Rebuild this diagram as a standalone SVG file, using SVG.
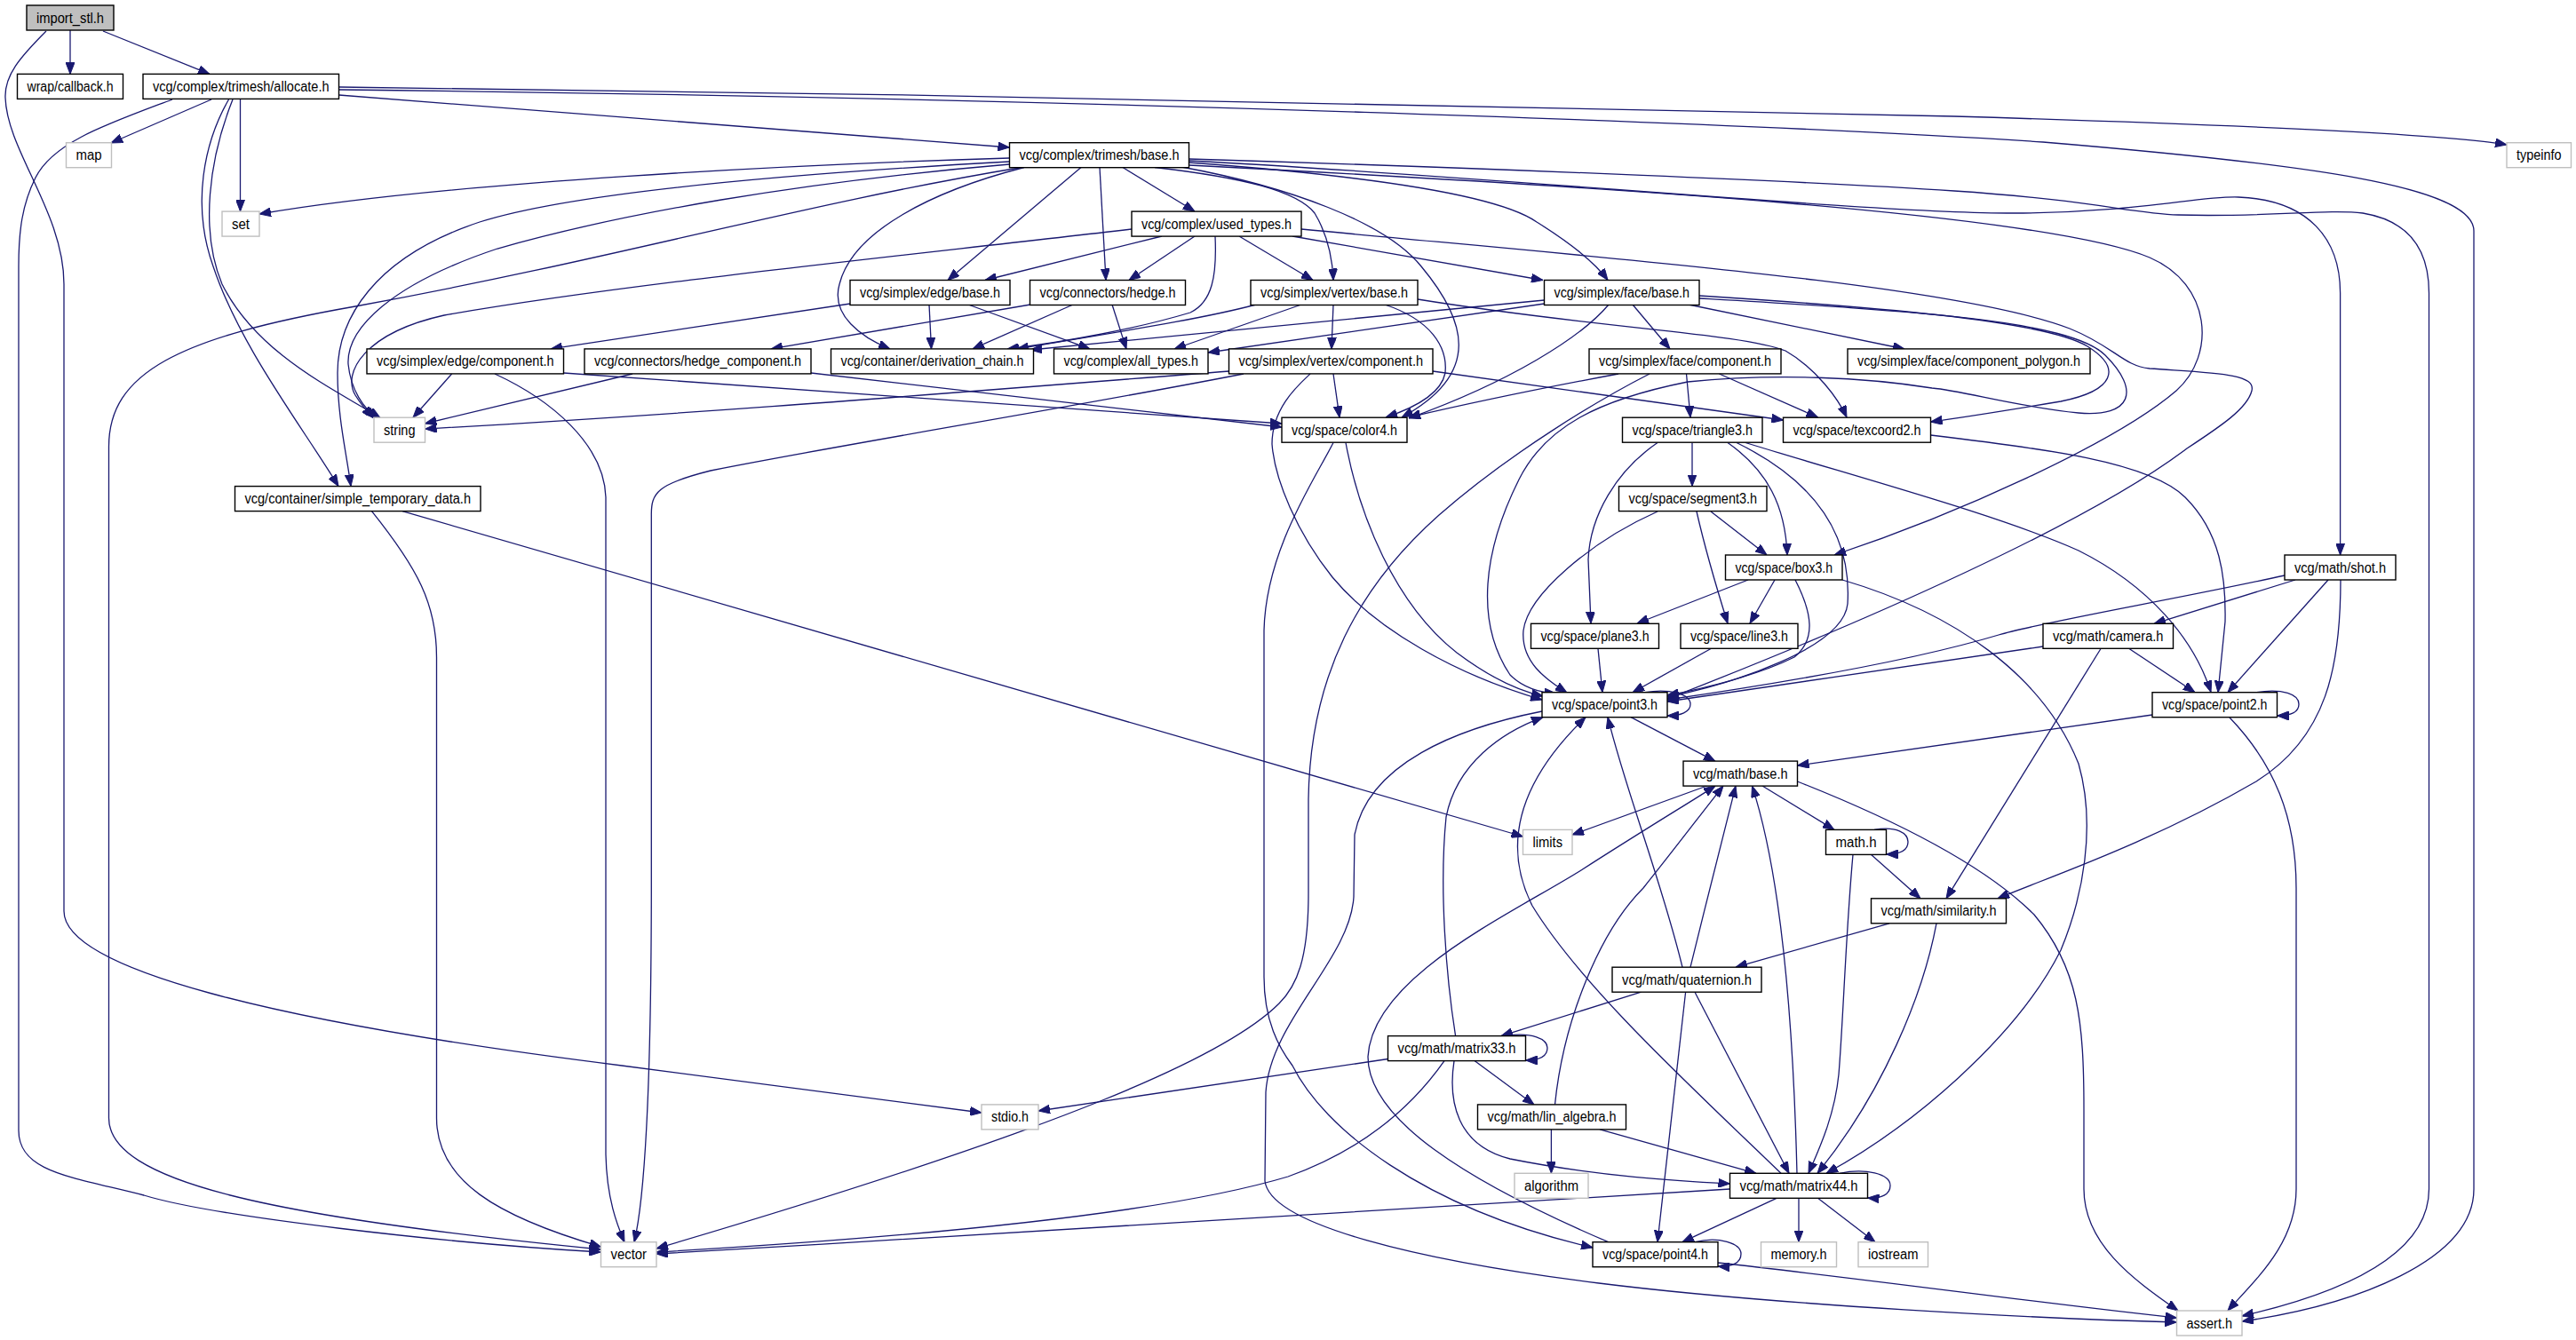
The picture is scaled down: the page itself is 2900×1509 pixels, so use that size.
<svg xmlns="http://www.w3.org/2000/svg" width="2900" height="1509" viewBox="0 0 2900 1509">
<defs>
<marker id="a" markerUnits="userSpaceOnUse" markerWidth="13" markerHeight="10" refX="13" refY="5" orient="auto"><path d="M0,0 L13,5 L0,10 z" fill="#191970" stroke="#191970" stroke-width="1"/></marker>
</defs>
<style>
.n rect{fill:#fff;stroke:#000;stroke-width:1.4}
.n.x rect{stroke:#bfbfbf}
.n.r rect{fill:#bfbfbf}
.n text{font-family:"Liberation Sans",Arial,sans-serif;font-size:16px;text-anchor:middle;fill:#000}
.e path{fill:none;stroke:#191970;stroke-width:1.3;marker-end:url(#a)}
</style>
<rect width="2900" height="1509" fill="#fff"/>
<g class="e" id="edges">
<path d="M79,34 L79,83.4"/>
<path d="M116,35 L236,83.4"/>
<path d="M52,35 C22,65 5,85 6,110 C8,170 72,240 72,320 L72,1026 C72,1090 300,1150 700,1200 L1105,1253"/>
<path d="M238,112 L125,161"/>
<path d="M270.5,112 L270.5,238"/>
<path d="M194,112 C120,140 60,160 40,200 C25,230 21,260 21,300 L21,1273 C21,1320 80,1325 162,1346 C240,1370 500,1400 676.5,1410"/>
<path d="M257.5,112 C230,160 215,230 240,300 C270,390 340,480 381,547.5"/>
<path d="M262,112 C235,180 225,260 250,320 C290,400 380,440 428,470.5"/>
<path d="M381.5,107 L1136.5,166"/>
<path d="M381.5,98 C1000,105 1800,120 2200,131 C2500,140 2750,150 2822,163"/>
<path d="M381.5,101 C1200,110 2000,140 2300,160 C2600,185 2785,210 2785,260 L2785,1339 C2785,1420 2650,1470 2524,1488"/>
<path d="M1136.5,178 C900,185 500,205 292,241"/>
<path d="M1136.5,182 C900,195 650,215 540,250 C420,290 380,360 380,420 C380,470 390,510 395,547.5"/>
<path d="M1136.5,185 C900,205 700,240 560,280 C440,320 390,370 392,410 C395,440 410,460 424,470.5"/>
<path d="M1150,188.5 C900,230 700,290 400,345 C200,380 122.5,420 122.5,503 L122.5,1259 C122.5,1330 300,1370 676.5,1407"/>
<path d="M1264,188.5 L1345,238"/>
<path d="M1238,188.5 L1245,315.5"/>
<path d="M1217,188.5 L1067,315.5"/>
<path d="M1153,188.5 C1050,215 960,260 945,320 C935,355 970,380 1002,393"/>
<path d="M1300,188.5 C1400,200 1460,215 1480,240 C1495,265 1500,290 1501,315.5"/>
<path d="M1330,188 C1450,210 1560,250 1600,300 C1650,360 1670,420 1578,470"/>
<path d="M1338.5,183 C1500,195 1680,215 1730,250 C1770,275 1795,295 1810,315.5"/>
<path d="M1338.5,181 C1700,200 2100,240 2267,240 C2400,240 2480,220 2520,222 C2600,225 2634.6,270 2634.6,330 L2634.6,625"/>
<path d="M1338.5,179 C1700,190 2050,205 2200,215 C2350,225 2400,240 2452,242 C2550,245 2620,235 2660,240 C2720,250 2734.5,290 2734.5,330 L2734.5,1339 C2734.5,1420 2620,1460 2524,1482"/>
<path d="M1338.5,186 C1800,210 2300,240 2420,290 C2490,320 2495,400 2450,440 C2380,500 2200,580 2065,625"/>
<path d="M1274,258 C1000,290 700,320 500,355 C410,375 385,420 400,445 C408,458 415,465 420,470.5"/>
<path d="M1308,266 L1109,315.5"/>
<path d="M1345,266 L1271,315.5"/>
<path d="M1368,266 C1370,310 1365,340 1340,352 C1280,370 1200,385 1134,393"/>
<path d="M1395,266 L1478,315.5"/>
<path d="M1455,266 L1737,315.5"/>
<path d="M1465,258 C1800,290 2200,320 2330,370 C2380,390 2390,412 2420,415 C2490,420 2540,420 2535,440 C2530,460 2500,480 2462,505 C2350,590 2100,700 1877,787"/>
<path d="M1414,343 C1350,360 1250,375 1145,393"/>
<path d="M1465,343 L1322,393"/>
<path d="M1501,343 L1499,393"/>
<path d="M1559,343 C1610,360 1630,390 1627,420 C1622,445 1590,460 1560,470"/>
<path d="M1596,337 C1800,370 1960,375 2010,395 C2045,415 2070,450 2079,470"/>
<path d="M1738.5,338 L1160,394"/>
<path d="M1738.5,342 L1360,397"/>
<path d="M1838,343 L1880,393"/>
<path d="M1901,343 L2144,393"/>
<path d="M1811,343 C1780,380 1700,430 1586,471"/>
<path d="M1913,333 C2100,345 2300,360 2350,390 C2390,415 2380,440 2320,452 C2260,462 2210,470 2173.5,475"/>
<path d="M1913,336 C2150,350 2330,360 2370,400 C2410,440 2400,470 2340,465 C2270,458 2210,440 2175,437 C2100,425 2000,420 1900,430 C1800,450 1740,480 1710,540 C1670,620 1660,700 1700,760 C1715,775 1735,780 1752,781"/>
<path d="M1822,421 C1720,440 1650,455 1586,470"/>
<path d="M1898.5,421 L1903,470"/>
<path d="M1935.5,421 L2046.5,470"/>
<path d="M1857,421 C1800,450 1700,510 1620,580 C1530,660 1475,760 1473,900 L1473,1006 C1473,1080 1460,1110 1440,1130 C1380,1190 1200,1270 739,1406"/>
<path d="M1905,498.5 L1905,547.5"/>
<path d="M1866,498.5 C1820,530 1790,580 1788,630 L1791,702"/>
<path d="M1945,498.5 C1990,530 2010,570 2012,625"/>
<path d="M1955,498.5 C2040,540 2085,600 2080,680 C2075,730 1950,770 1877,785"/>
<path d="M1965,498.5 C2100,540 2250,580 2340,620 C2420,660 2470,720 2489,779.5"/>
<path d="M1866,576 C1790,610 1720,670 1715,710 C1712,745 1740,765 1764,780"/>
<path d="M1926,576 L1989,625"/>
<path d="M1910,576 C1920,620 1935,670 1945,702"/>
<path d="M1968,653 L1843,702"/>
<path d="M1998,653 L1970,702"/>
<path d="M2021,653 C2040,690 2045,720 2020,740 C1980,760 1920,775 1877,783"/>
<path d="M2074,653 C2200,690 2300,760 2340,860 C2360,930 2345,1010 2320,1070 C2270,1170 2150,1270 2056,1321.3"/>
<path d="M1799,730.5 L1804,779.7"/>
<path d="M1926,730.5 L1838,779.7"/>
<path d="M1852,779.7 C1880,775 1903,782 1903,793 C1903,802 1892,806 1877,806"/>
<path d="M1836,807.7 L1931,857.3"/>
<path d="M2540,779.7 C2570,775 2588,782 2588,793 C2588,802 2578,806 2563.5,806"/>
<path d="M2423,805 L2023.5,862"/>
<path d="M2510,808 C2560,860 2585,920 2585,1000 L2585,1339 C2585,1400 2540,1440 2508,1476"/>
<path d="M2397,730.5 L2471,779.7"/>
<path d="M2365,730.5 L2191,1011.8"/>
<path d="M2300,728 L1877,790"/>
<path d="M2584,653 L2425,702.3"/>
<path d="M2621,653 L2508,779.7"/>
<path d="M2635,653 C2635,750 2620,830 2540,880 C2420,950 2300,990 2249,1011.8"/>
<path d="M2572,648 C2450,675 2300,700 2250,715 C2150,745 2000,770 1877,788"/>
<path d="M1921.6,885 L1770,940"/>
<path d="M1984,885 L2065,934.4"/>
<path d="M2023.4,880 C2150,930 2240,980 2290,1030 C2340,1090 2346,1150 2346,1250 L2346,1339 C2346,1400 2400,1440 2452,1476"/>
<path d="M2110,934.4 C2135,930 2148,938 2148,948 C2148,958 2138,962 2123.5,962"/>
<path d="M2106.6,962.4 L2162,1011.8"/>
<path d="M2086,962.4 C2078,1050 2075,1150 2070,1210 C2065,1260 2045,1300 2036,1321.3"/>
<path d="M2127,1039.8 L1954,1089.2"/>
<path d="M2180,1039.8 C2165,1120 2120,1230 2046,1321.3"/>
<path d="M1847.6,1117.2 L1690,1166.6"/>
<path d="M1897.6,1117.2 L1866,1398.7"/>
<path d="M1908,1117.2 L2014,1321.3"/>
<path d="M1894,1089.2 C1870,990 1830,890 1810,807.7"/>
<path d="M1903,1089.2 C1920,1020 1940,940 1954,885.1"/>
<path d="M1695,1166.6 C1725,1162 1742,1170 1742,1180 C1742,1190 1732,1194 1717.5,1194"/>
<path d="M1638.6,1166.6 C1628,1100 1620,1000 1628,920 C1640,860 1690,825 1737,807.7"/>
<path d="M1660,1194.6 L1727,1243.9"/>
<path d="M1637,1194.6 C1630,1240 1640,1290 1700,1305 C1800,1325 1890,1330 1947.5,1333"/>
<path d="M1626,1194.6 C1580,1260 1520,1300 1450,1325 C1300,1370 1000,1395 739,1410"/>
<path d="M1562.5,1192.5 L1169,1251"/>
<path d="M1746.4,1271.9 L1746.4,1321.3"/>
<path d="M1801,1271.9 L1977,1321.3"/>
<path d="M1750.5,1243.9 C1760,1150 1800,1050 1850,1000 C1890,950 1920,910 1940,885.1"/>
<path d="M2071,1321.3 C2100,1315 2128,1322 2128,1335 C2128,1345 2118,1350 2102.5,1349"/>
<path d="M2000,1349.3 L1894,1398.7"/>
<path d="M2025,1349.3 L2025,1398.7"/>
<path d="M2046.5,1349.3 L2111,1398.7"/>
<path d="M1947.5,1339 C1700,1355 1200,1385 739,1412"/>
<path d="M2005,1321.3 C1900,1220 1780,1110 1725,1020 C1690,950 1710,880 1785,807.7"/>
<path d="M2023,1321.3 C2020,1200 2010,1000 1972.5,885.1"/>
<path d="M1908,1398.7 C1935,1392 1960,1400 1960,1412 C1960,1422 1950,1427 1934,1426"/>
<path d="M1934,1422 C2100,1440 2300,1468 2450.5,1484"/>
<path d="M1810.6,1398.7 C1650,1330 1540,1260 1540,1190 C1545,1100 1700,1030 1780,980 C1850,935 1900,905 1931,885.1"/>
<path d="M1736,801 C1640,820 1540,860 1525,940 L1524,1010 C1520,1080 1430,1150 1425,1230 L1424,1330 C1430,1380 1600,1420 1800,1445 C2000,1470 2300,1485 2450.5,1489"/>
<path d="M1515,498.5 C1530,580 1570,680 1640,735 C1680,765 1710,778 1737,784"/>
<path d="M1501,498.5 C1480,540 1425,620 1423,710 L1423,1100 C1423,1150 1440,1180 1455,1200 C1490,1270 1600,1360 1793,1405"/>
<path d="M1384,418 C1100,440 800,465 478.5,483"/>
<path d="M712,421 L478.5,477"/>
<path d="M1400,421 C1200,460 950,500 800,530 C740,545 733,555 733.3,580 L733.3,1006 C733,1200 728,1340 714,1398.7"/>
<path d="M1501,421 L1508,470.2"/>
<path d="M1613,418 L2007.5,473"/>
<path d="M1475,421 C1460,435 1432,460 1432,500 C1435,540 1460,600 1500,650 C1550,710 1640,760 1736,788"/>
<path d="M508.6,421 L465,470.2"/>
<path d="M557,421 C620,450 680,500 682,560 L682,1300 C683,1350 695,1380 703,1398.7"/>
<path d="M634.5,420 L1443,477"/>
<path d="M913,420 L1443,481"/>
<path d="M1160,343 L868,392.9"/>
<path d="M1208,343 L1095,392.9"/>
<path d="M1252,343 L1268,392.9"/>
<path d="M957,342 L620,392.9"/>
<path d="M1046,343 L1048.5,392.9"/>
<path d="M1090,343 L1227,392.9"/>
<path d="M418.5,575.6 C470,640 491.5,680 491.5,740 L491.5,1259 C491.5,1330 560,1370 676.5,1404"/>
<path d="M453,575.6 L1714.5,942"/>
<path d="M2173.5,490 C2300,505 2420,520 2460,560 C2500,600 2506,650 2505,700 L2497,779.7"/>
</g>
<g class="n r" id="import_stl"><rect x="30" y="6" width="98" height="28"/><text x="79" y="25.5" textLength="76" lengthAdjust="spacingAndGlyphs">import_stl.h</text></g>
<g class="n" id="callback"><rect x="19.5" y="83.4" width="119" height="28"/><text x="79" y="102.9" textLength="97" lengthAdjust="spacingAndGlyphs">wrap/callback.h</text></g>
<g class="n" id="allocate"><rect x="161" y="83.4" width="220.5" height="28"/><text x="271.25" y="102.9" textLength="198.5" lengthAdjust="spacingAndGlyphs">vcg/complex/trimesh/allocate.h</text></g>
<g class="n x" id="map"><rect x="74.5" y="160.7" width="51" height="28"/><text x="100" y="180.2" textLength="29" lengthAdjust="spacingAndGlyphs">map</text></g>
<g class="n" id="trimesh_base"><rect x="1136.5" y="160.7" width="202" height="28"/><text x="1237.5" y="180.2" textLength="180" lengthAdjust="spacingAndGlyphs">vcg/complex/trimesh/base.h</text></g>
<g class="n x" id="typeinfo"><rect x="2822" y="160.7" width="72.5" height="28"/><text x="2858.25" y="180.2" textLength="50.5" lengthAdjust="spacingAndGlyphs">typeinfo</text></g>
<g class="n x" id="set"><rect x="250" y="238.1" width="42" height="28"/><text x="271" y="257.6" textLength="20" lengthAdjust="spacingAndGlyphs">set</text></g>
<g class="n" id="used_types"><rect x="1274" y="238.1" width="191" height="28"/><text x="1369.5" y="257.6" textLength="169" lengthAdjust="spacingAndGlyphs">vcg/complex/used_types.h</text></g>
<g class="n" id="edge_base"><rect x="957" y="315.5" width="180" height="28"/><text x="1047" y="335" textLength="158" lengthAdjust="spacingAndGlyphs">vcg/simplex/edge/base.h</text></g>
<g class="n" id="hedge"><rect x="1159.5" y="315.5" width="175" height="28"/><text x="1247" y="335" textLength="153" lengthAdjust="spacingAndGlyphs">vcg/connectors/hedge.h</text></g>
<g class="n" id="vertex_base"><rect x="1408" y="315.5" width="188" height="28"/><text x="1502" y="335" textLength="166" lengthAdjust="spacingAndGlyphs">vcg/simplex/vertex/base.h</text></g>
<g class="n" id="face_base"><rect x="1738.5" y="315.5" width="174.5" height="28"/><text x="1825.75" y="335" textLength="152.5" lengthAdjust="spacingAndGlyphs">vcg/simplex/face/base.h</text></g>
<g class="n" id="edge_component"><rect x="413" y="392.9" width="221.5" height="28"/><text x="523.75" y="412.4" textLength="199.5" lengthAdjust="spacingAndGlyphs">vcg/simplex/edge/component.h</text></g>
<g class="n" id="hedge_component"><rect x="658" y="392.9" width="255" height="28"/><text x="785.5" y="412.4" textLength="233" lengthAdjust="spacingAndGlyphs">vcg/connectors/hedge_component.h</text></g>
<g class="n" id="derivation_chain"><rect x="935.5" y="392.9" width="228" height="28"/><text x="1049.5" y="412.4" textLength="206" lengthAdjust="spacingAndGlyphs">vcg/container/derivation_chain.h</text></g>
<g class="n" id="all_types"><rect x="1186.5" y="392.9" width="173.5" height="28"/><text x="1273.25" y="412.4" textLength="151.5" lengthAdjust="spacingAndGlyphs">vcg/complex/all_types.h</text></g>
<g class="n" id="vertex_component"><rect x="1383.5" y="392.9" width="229.5" height="28"/><text x="1498.25" y="412.4" textLength="207.5" lengthAdjust="spacingAndGlyphs">vcg/simplex/vertex/component.h</text></g>
<g class="n" id="face_component"><rect x="1789" y="392.9" width="216" height="28"/><text x="1897" y="412.4" textLength="194" lengthAdjust="spacingAndGlyphs">vcg/simplex/face/component.h</text></g>
<g class="n" id="face_component_polygon"><rect x="2080" y="392.9" width="273" height="28"/><text x="2216.5" y="412.4" textLength="251" lengthAdjust="spacingAndGlyphs">vcg/simplex/face/component_polygon.h</text></g>
<g class="n x" id="string"><rect x="421" y="470.2" width="57.5" height="28"/><text x="449.75" y="489.7" textLength="35.5" lengthAdjust="spacingAndGlyphs">string</text></g>
<g class="n" id="color4"><rect x="1443" y="470.2" width="141" height="28"/><text x="1513.5" y="489.7" textLength="119" lengthAdjust="spacingAndGlyphs">vcg/space/color4.h</text></g>
<g class="n" id="triangle3"><rect x="1826.5" y="470.2" width="157.5" height="28"/><text x="1905.25" y="489.7" textLength="135.5" lengthAdjust="spacingAndGlyphs">vcg/space/triangle3.h</text></g>
<g class="n" id="texcoord2"><rect x="2007.5" y="470.2" width="166" height="28"/><text x="2090.5" y="489.7" textLength="144" lengthAdjust="spacingAndGlyphs">vcg/space/texcoord2.h</text></g>
<g class="n" id="simple_temporary_data"><rect x="264.5" y="547.6" width="276.5" height="28"/><text x="402.75" y="567.1" textLength="254.5" lengthAdjust="spacingAndGlyphs">vcg/container/simple_temporary_data.h</text></g>
<g class="n" id="segment3"><rect x="1822.5" y="547.6" width="166.5" height="28"/><text x="1905.75" y="567.1" textLength="144.5" lengthAdjust="spacingAndGlyphs">vcg/space/segment3.h</text></g>
<g class="n" id="box3"><rect x="1942.5" y="625" width="131.5" height="28"/><text x="2008.25" y="644.5" textLength="109.5" lengthAdjust="spacingAndGlyphs">vcg/space/box3.h</text></g>
<g class="n" id="shot"><rect x="2572" y="625" width="125" height="28"/><text x="2634.5" y="644.5" textLength="103" lengthAdjust="spacingAndGlyphs">vcg/math/shot.h</text></g>
<g class="n" id="plane3"><rect x="1723.5" y="702.3" width="144" height="28"/><text x="1795.5" y="721.8" textLength="122" lengthAdjust="spacingAndGlyphs">vcg/space/plane3.h</text></g>
<g class="n" id="line3"><rect x="1892" y="702.3" width="132" height="28"/><text x="1958" y="721.8" textLength="110" lengthAdjust="spacingAndGlyphs">vcg/space/line3.h</text></g>
<g class="n" id="camera"><rect x="2300" y="702.3" width="146.5" height="28"/><text x="2373.25" y="721.8" textLength="124.5" lengthAdjust="spacingAndGlyphs">vcg/math/camera.h</text></g>
<g class="n" id="point3"><rect x="1736" y="779.7" width="141" height="28"/><text x="1806.5" y="799.2" textLength="119" lengthAdjust="spacingAndGlyphs">vcg/space/point3.h</text></g>
<g class="n" id="point2"><rect x="2423" y="779.7" width="140.5" height="28"/><text x="2493.25" y="799.2" textLength="118.5" lengthAdjust="spacingAndGlyphs">vcg/space/point2.h</text></g>
<g class="n" id="math_base"><rect x="1895" y="857.1" width="128.5" height="28"/><text x="1959.25" y="876.6" textLength="106.5" lengthAdjust="spacingAndGlyphs">vcg/math/base.h</text></g>
<g class="n x" id="limits"><rect x="1714.5" y="934.4" width="55.5" height="28"/><text x="1742.25" y="953.9" textLength="33.5" lengthAdjust="spacingAndGlyphs">limits</text></g>
<g class="n" id="math_h"><rect x="2055.5" y="934.4" width="68" height="28"/><text x="2089.5" y="953.9" textLength="46" lengthAdjust="spacingAndGlyphs">math.h</text></g>
<g class="n" id="similarity"><rect x="2106.5" y="1011.8" width="152" height="28"/><text x="2182.5" y="1031.3" textLength="130" lengthAdjust="spacingAndGlyphs">vcg/math/similarity.h</text></g>
<g class="n" id="quaternion"><rect x="1815" y="1089.2" width="168" height="28"/><text x="1899" y="1108.7" textLength="146" lengthAdjust="spacingAndGlyphs">vcg/math/quaternion.h</text></g>
<g class="n" id="matrix33"><rect x="1562.5" y="1166.6" width="155" height="28"/><text x="1640" y="1186.1" textLength="133" lengthAdjust="spacingAndGlyphs">vcg/math/matrix33.h</text></g>
<g class="n" id="lin_algebra"><rect x="1663.5" y="1243.9" width="167" height="28"/><text x="1747" y="1263.4" textLength="145" lengthAdjust="spacingAndGlyphs">vcg/math/lin_algebra.h</text></g>
<g class="n x" id="stdio"><rect x="1105" y="1243.9" width="64" height="28"/><text x="1137" y="1263.4" textLength="42" lengthAdjust="spacingAndGlyphs">stdio.h</text></g>
<g class="n x" id="algorithm"><rect x="1705" y="1321.3" width="83" height="28"/><text x="1746.5" y="1340.8" textLength="61" lengthAdjust="spacingAndGlyphs">algorithm</text></g>
<g class="n" id="matrix44"><rect x="1947.5" y="1321.3" width="155" height="28"/><text x="2025" y="1340.8" textLength="133" lengthAdjust="spacingAndGlyphs">vcg/math/matrix44.h</text></g>
<g class="n x" id="vector"><rect x="676.5" y="1398.7" width="62.5" height="28"/><text x="707.75" y="1418.2" textLength="40.5" lengthAdjust="spacingAndGlyphs">vector</text></g>
<g class="n" id="point4"><rect x="1793" y="1398.7" width="141" height="28"/><text x="1863.5" y="1418.2" textLength="119" lengthAdjust="spacingAndGlyphs">vcg/space/point4.h</text></g>
<g class="n x" id="memory"><rect x="1982.5" y="1398.7" width="85" height="28"/><text x="2025" y="1418.2" textLength="63" lengthAdjust="spacingAndGlyphs">memory.h</text></g>
<g class="n x" id="iostream"><rect x="2092" y="1398.7" width="78.5" height="28"/><text x="2131.25" y="1418.2" textLength="56.5" lengthAdjust="spacingAndGlyphs">iostream</text></g>
<g class="n x" id="assert"><rect x="2450.5" y="1476" width="73.5" height="28"/><text x="2487.25" y="1495.5" textLength="51.5" lengthAdjust="spacingAndGlyphs">assert.h</text></g>
</svg>
